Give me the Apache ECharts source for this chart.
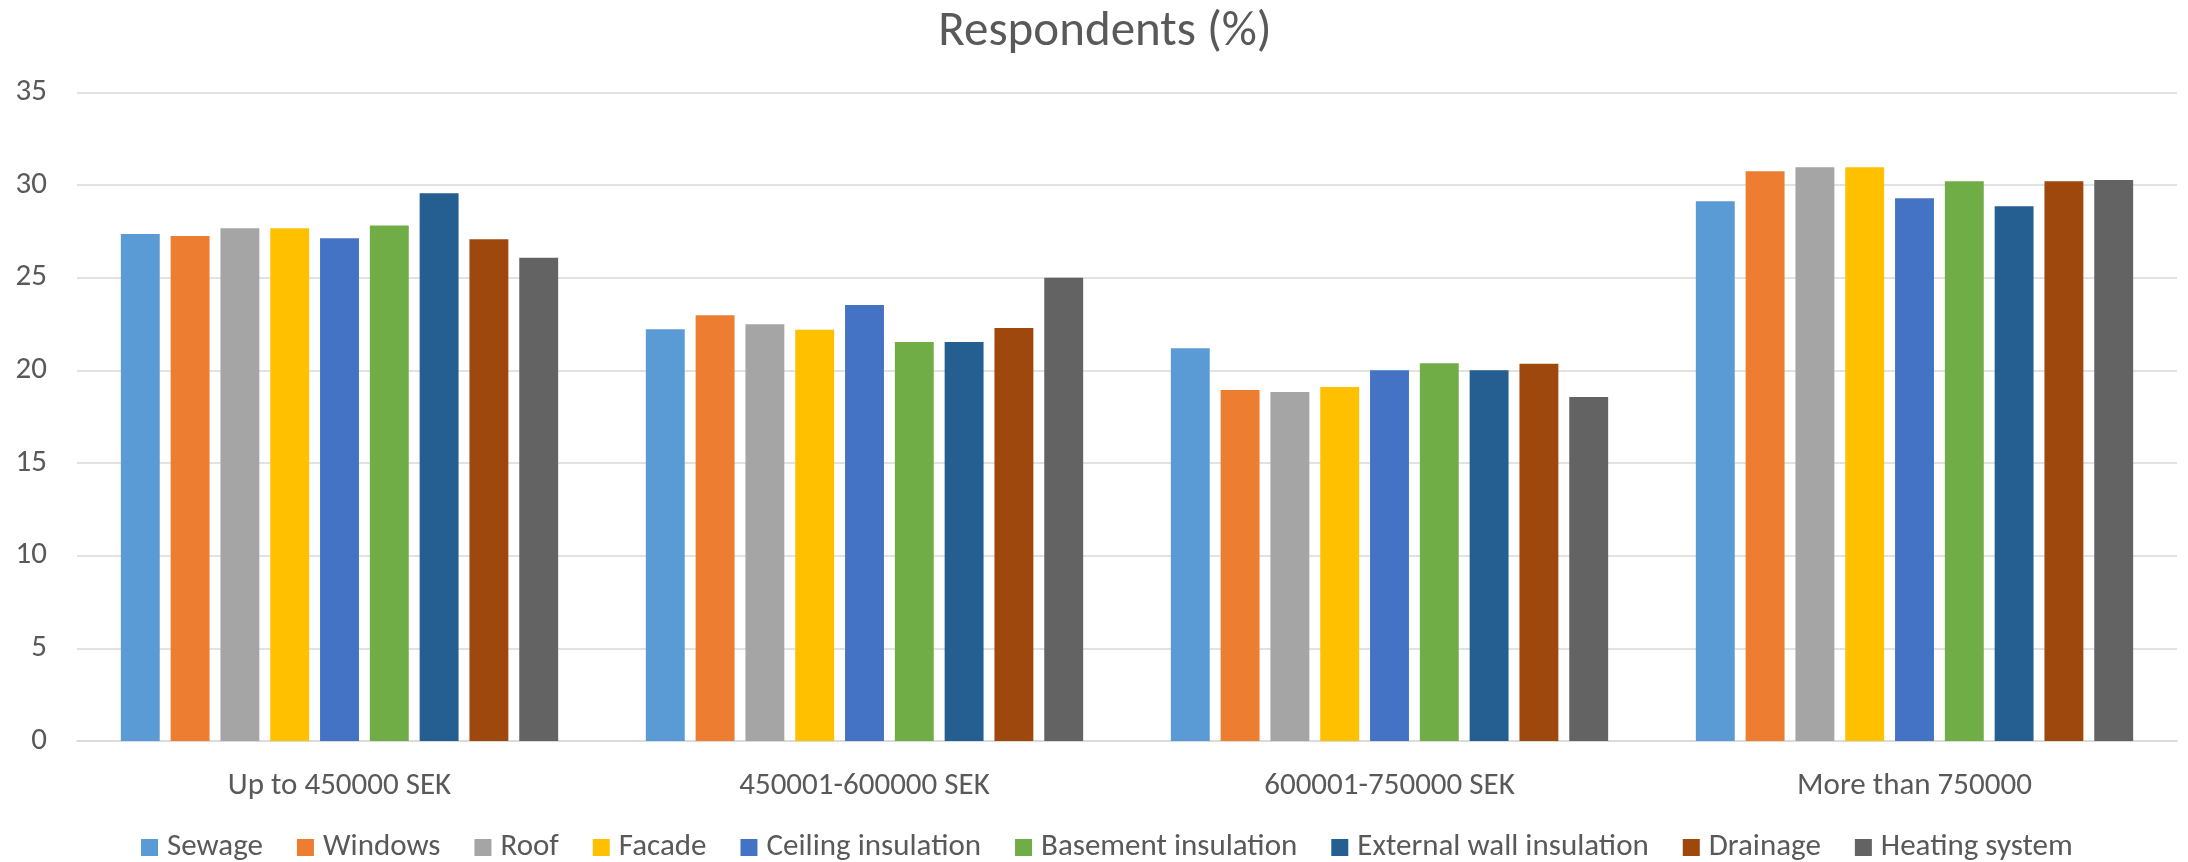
<!DOCTYPE html>
<html>
<head>
<meta charset="utf-8">
<title>Respondents (%)</title>
<script src="https://cdn.jsdelivr.net/npm/echarts@6/dist/echarts.min.js"></script>
<style>
  html, body { margin: 0; padding: 0; background: #ffffff; }
  #chart { width: 2188px; height: 862px; }
</style>
</head>
<body>
<div id="chart"></div>
<script>
// Income brackets on the category axis
const categories = ['Up to 450000 SEK', '450001-600000 SEK', '600001-750000 SEK', 'More than 750000'];

// Share of respondents (%) per renovation item, one value per income bracket
const sewage           = [27.36, 22.21, 21.19, 29.12];
const windows          = [27.25, 22.97, 18.94, 30.74];
const roof             = [27.66, 22.48, 18.83, 30.95];
const facade           = [27.66, 22.19, 19.10, 30.95];
const ceilingInsul     = [27.12, 23.53, 20.00, 29.28];
const basementInsul    = [27.81, 21.53, 20.38, 30.20];
const externalWall     = [29.55, 21.53, 20.00, 28.85];
const drainage         = [27.07, 22.28, 20.36, 30.20];
const heatingSystem    = [26.08, 25.00, 18.56, 30.27];

const seriesNames = ['Sewage', 'Windows', 'Roof', 'Facade', 'Ceiling insulation',
  'Basement insulation', 'External wall insulation', 'Drainage', 'Heating system'];
const seriesValues = [sewage, windows, roof, facade, ceilingInsul,
  basementInsul, externalWall, drainage, heatingSystem];
const seriesColors = ['#5B9BD5', '#ED7D31', '#A5A5A5', '#FFC000', '#4472C4',
  '#70AD47', '#255E91', '#9E480E', '#636363'];

// Value axis ticks
const yMin = 0, yMax = 35, yStep = 5;

const FONT = 'Carlito, Lato, sans-serif';
const TEXT = '#595959';

const chart = echarts.init(document.getElementById('chart'), null, { renderer: 'canvas' });

chart.setOption({
  backgroundColor: '#ffffff',
  animation: false,
  color: seriesColors,
  title: {
    text: 'Respondents (%)',
    left: 1100,
    textAlign: 'center',
    top: 3,
    textStyle: { fontFamily: FONT, fontSize: 49, fontWeight: 'normal', color: TEXT }
  },
  legend: {
    data: seriesNames,
    left: 136,
    top: 827,
    itemWidth: 17,
    itemHeight: 17,
    itemGap: 34,
    icon: 'rect',
    textStyle: { fontFamily: FONT, fontSize: 31, color: TEXT, padding: [0, 0, 0, 4] }
  },
  grid: { left: 77, right: 11, top: 92.3, bottom: 121, containLabel: false },
  xAxis: {
    type: 'category',
    data: categories,
    axisLine: { show: true, lineStyle: { color: '#D9D9D9', width: 1.5 } },
    axisTick: { show: false },
    axisLabel: { fontFamily: FONT, fontSize: 31, color: TEXT, margin: 30 },
    splitLine: { show: false }
  },
  yAxis: {
    type: 'value',
    min: yMin,
    max: yMax,
    interval: yStep,
    axisLine: { show: false },
    axisTick: { show: false },
    axisLabel: { fontFamily: FONT, fontSize: 31, color: TEXT, margin: 30 },
    splitLine: { lineStyle: { color: '#D9D9D9', width: 1.5 } }
  },
  series: seriesNames.map((name, i) => ({
    name: name,
    type: 'bar',
    data: seriesValues[i],
    barGap: '28%',
    barCategoryGap: '16.7%',
    itemStyle: { color: seriesColors[i] }
  }))
});
</script>
</body>
</html>
